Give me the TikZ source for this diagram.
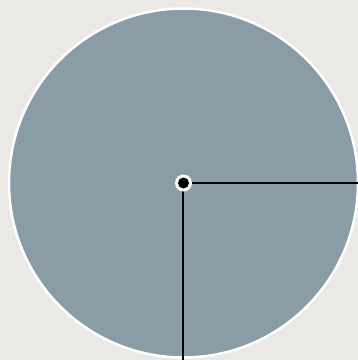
\documentclass[tikz,border=0pt]{standalone}
\definecolor{paper}{HTML}{EBE9E5}
\definecolor{disc}{HTML}{8A9CA6}
\begin{document}
\begin{tikzpicture}[x=1pt, y=1pt, line cap=butt,
    radius line/.style={draw=black, line width=2pt}]
        \fill[paper] (0,0) rectangle (358,360);
        \useasboundingbox (0,0) rectangle (358,360);
        \coordinate (centre) at (183.5,177);
        \draw[fill=disc, draw=white, line width=2.5pt] (centre) circle (174.5);
        \coordinate (east end) at (358,177);
        \coordinate (south end) at (183.5,0);
        \draw[radius line] (centre) -- (east end);
        \draw[radius line] (centre) -- (south end);
        \fill[white] (centre) circle (8.5);
        \fill[black] (centre) circle (5.5);
    \end{tikzpicture}
\end{document}
